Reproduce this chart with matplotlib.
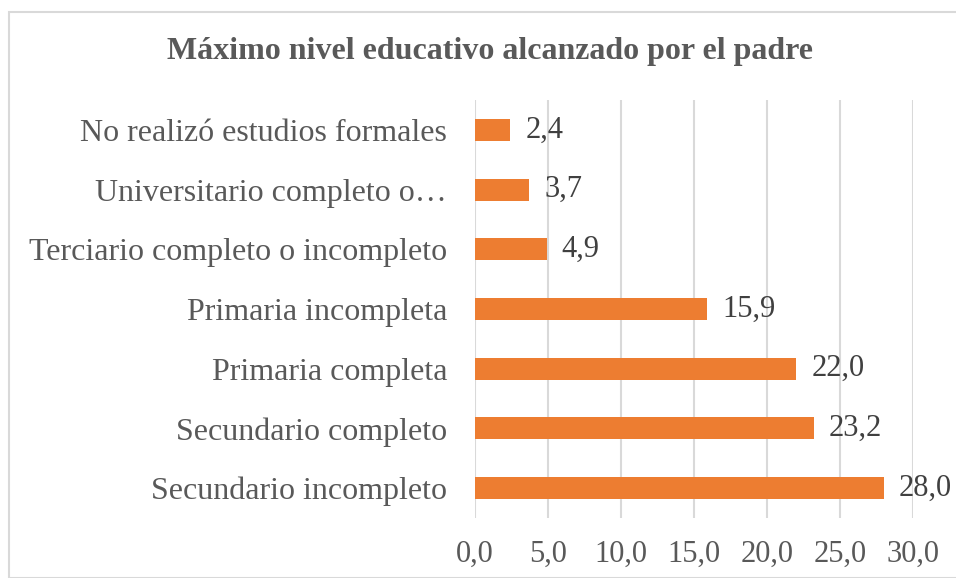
import matplotlib
matplotlib.use("Agg")
import matplotlib.pyplot as plt
from matplotlib.patches import Rectangle

categories = ["No realizó estudios formales", "Universitario completo o…",
              "Terciario completo o incompleto", "Primaria incompleta",
              "Primaria completa", "Secundario completo", "Secundario incompleto"]
values = [2.4, 3.7, 4.9, 15.9, 22.0, 23.2, 28.0]
xticks = [0, 5, 10, 15, 20, 25, 30]
xticklabels = ["0,0", "5,0", "10,0", "15,0", "20,0", "25,0", "30,0"]
title = "Máximo nivel educativo alcanzado por el padre"

plt.rcParams['font.family'] = ['Liberation Serif', 'DejaVu Serif']

W, H = 956, 578
fig = plt.figure(figsize=(W/100, H/100), dpi=100)
fig.patches.append(Rectangle((9/W, 0), 1.2, (H-12)/H, transform=fig.transFigure,
                             fill=False, edgecolor='#d9d9d9', linewidth=1.5))

ax = fig.add_axes([475/W, (H-518)/H, (913-475)/W, (518-100)/H])
y = list(range(len(categories)))
ax.barh(y, values, height=0.37, color='#ED7D31', zorder=3)
ax.set_ylim(len(categories)-0.5, -0.5)
ax.set_xlim(0, 30)
ax.set_xticks(xticks)
ax.set_xticklabels(xticklabels)
ax.set_yticks(y)
ax.set_yticklabels(categories)
ax.tick_params(axis='x', length=0, pad=16, labelsize=22, labelcolor='#595959')
ax.tick_params(axis='y', length=0, pad=20, labelsize=23, labelcolor='#595959')
ax.grid(axis='x', color='#d9d9d9', linewidth=1.5, zorder=0)
for s in ax.spines.values():
    s.set_visible(False)
for yi, v in zip(y, values):
    ax.annotate(f"{v:.1f}".replace('.', ','), (v, yi), xytext=(11, 0),
                textcoords='offset points', va='center', ha='left',
                fontsize=22, color='#404040')
fig.text(490/W, (H-52)/H, title, ha='center', va='center', fontsize=23,
         fontweight='bold', color='#595959')
fig.savefig("out.png", dpi=100)
